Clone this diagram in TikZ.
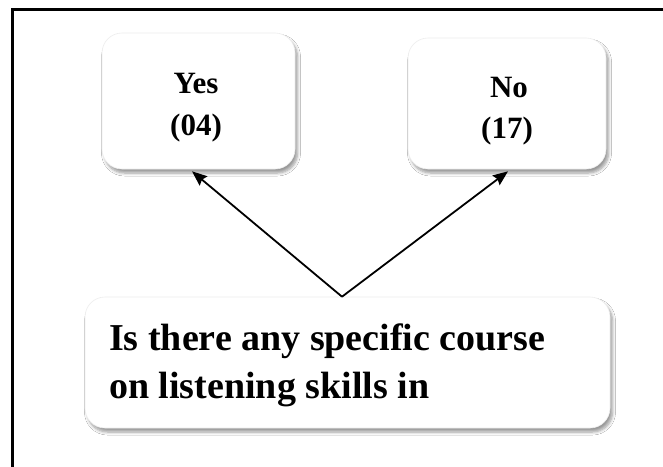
\documentclass[tikz,border=0pt]{standalone}
\usepackage{fontspec}
\setmainfont{Liberation Serif}
\usetikzlibrary{arrows.meta,shadows.blur}
\tikzset{
  card/.style={draw=black!7, line width=0.6pt, fill=white, rounded corners=20pt,
    blur shadow={shadow xshift=2.5pt, shadow yshift=-4pt, shadow blur steps=6, shadow opacity=40, shadow blur radius=3pt}},
  smalltxt/.style={anchor=base, inner sep=0pt, font=\bfseries\fontsize{31}{42}\selectfont},
  bigtxt/.style={anchor=base west, inner sep=0pt, font=\bfseries\fontsize{38}{48}\selectfont},
  frameline/.style={line width=3pt, black},
  link/.style={line width=1.8pt, -{Stealth[length=15pt,width=12pt,inset=2pt]}}
}
\begin{document}
\begin{tikzpicture}[x=1pt,y=-1pt]
\useasboundingbox (0,0) rectangle (663,466);
\fill[white] (0,0) rectangle (663,466);
\draw[frameline] (12,470) -- (12,9) -- (670,9);
\node[card, minimum width=193pt, minimum height=136pt] (yes) at (198.5,101) {};
\node[card, minimum width=198pt, minimum height=131pt] (no) at (507,103.5) {};
\node[card, minimum width=525pt, minimum height=131pt] (q) at (347.5,362.5) {};
\node[smalltxt] (yes1) at (196,93) {Yes};
\node[smalltxt] (yes2) at (196,135) {(04)};
\node[smalltxt] (no1) at (509,97) {No};
\node[smalltxt] (no2) at (507,138) {(17)};
\node[bigtxt] (q1) at (109,350) {Is there any specific course};
\node[bigtxt] (q2) at (109,398) {on listening skills in};
\coordinate (apex) at ([xshift=-5.5pt]q.north);
\coordinate (yestip) at ([xshift=-6.5pt,yshift=-2pt]yes.south);
\coordinate (notip) at ([xshift=1pt,yshift=-2pt]no.south);
\draw[link] (apex) -- (yestip);
\draw[link] (apex) -- (notip);
\end{tikzpicture}
\end{document}
